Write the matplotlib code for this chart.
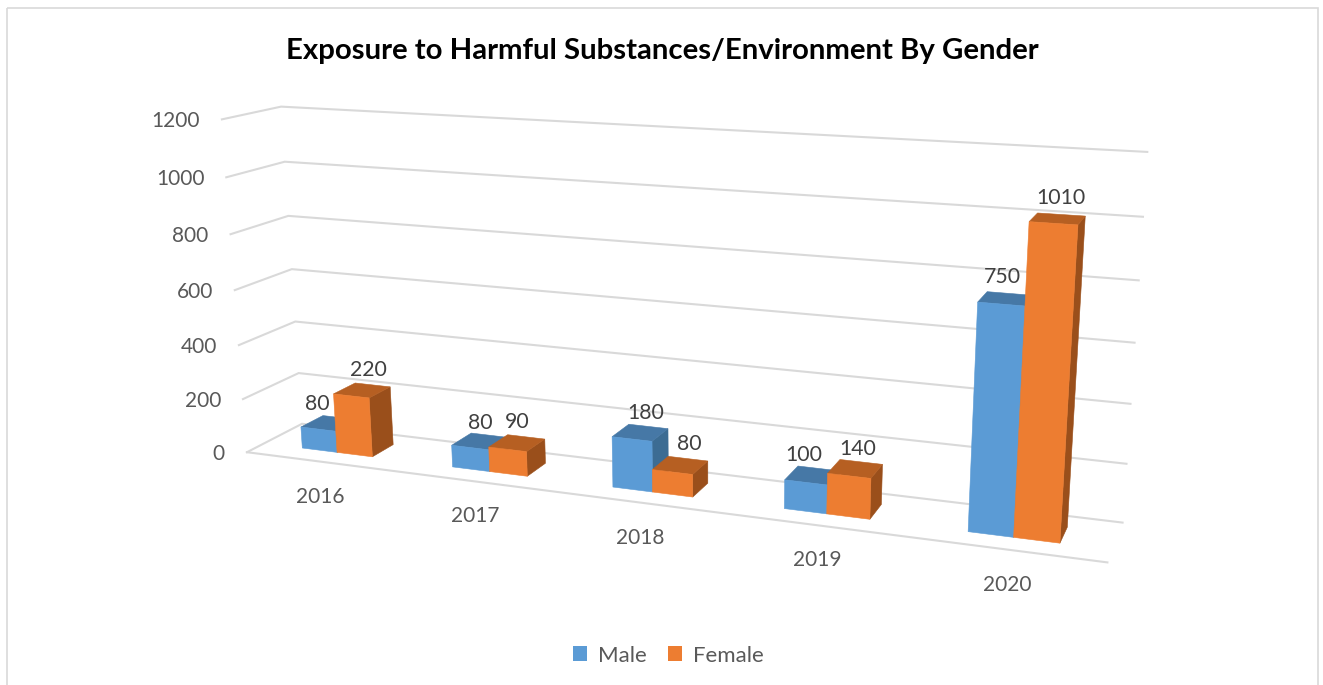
import numpy as np
import matplotlib
matplotlib.use("Agg")
import matplotlib.pyplot as plt
from matplotlib.patches import Patch, Polygon, Rectangle

plt.rcParams['font.family'] = ['Lato', 'DejaVu Sans']

# Data
years = ['2016', '2017', '2018', '2019', '2020']
male = [80, 80, 180, 100, 750]
female = [220, 90, 80, 140, 1010]
ticks = [0, 200, 400, 600, 800, 1000, 1200]

# label nudges in pixels, from the top centre of each bar
male_nudge = [(-24, -13), (-10, -12), (-4, -13), (-16, -13), (-9, -16)]
female_nudge = [(-6, -15), (-10, -15), (0, -14), (-5, -13), (-2, -16)]

# Colours (front, top, side)
blue = ('#5B9BD5', '#4678A6', '#3C6C93')
orange = ('#ED7D31', '#B65F22', '#9A4F1B')
grid = '#D9D9D9'
text = '#595959'

# The 3D box of the chart: category, value, depth -> where its corners land
box = [((0, 0, 0), (247, 452)), ((0, 1200, 0), (222, 120)),
       ((0, 0, 1), (302, 424)), ((0, 1200, 1), (281, 106)),
       ((5, 0, 0), (1108, 563)), ((5, 1200, 0), (1132, 169)),
       ((5, 0, 1), (1122, 522)), ((5, 1200, 1), (1148, 153))]

rows, rhs = [], []
for (u, v, w), (px, py) in box:
    v = v / 1200
    rows.append([u, v, w, 1, 0, 0, 0, 0, -px * u, -px * v, -px * w])
    rows.append([0, 0, 0, 0, u, v, w, 1, -py * u, -py * v, -py * w])
    rhs += [px, py]
m = np.linalg.lstsq(np.array(rows, float), np.array(rhs, float), rcond=None)[0]


def project(u, v, w):
    v = v / 1200
    d = m[8] * u + m[9] * v + m[10] * w + 1
    return ((m[0] * u + m[1] * v + m[2] * w + m[3]) / d,
            (m[4] * u + m[5] * v + m[6] * w + m[7]) / d)


fig = plt.figure(figsize=(13.23, 6.85), dpi=100)
ax = fig.add_axes([0, 0, 1, 1])
ax.set_xlim(0, 1323)
ax.set_ylim(685, 0)
ax.axis('off')

# chart frame
ax.add_patch(Rectangle((7, 8), 1311, 700, fill=False, ec=grid, lw=1.2))

# gridlines
for t in ticks:
    pts = [project(0, t, 0), project(0, t, 1), project(5, t, 1)]
    ax.plot(*zip(*pts), color=grid, lw=1.5, solid_joinstyle='miter')
    x, y = project(0, t, 0)
    ax.text(x - 22, y + 2, str(t), ha='right', va='center', fontsize=15, color=text)
ax.plot(*zip(project(0, 0, 0), project(5, 0, 0)), color=grid, lw=1.5)


def draw_bar(u0, u1, val, cols):
    w0, w1 = 0.305, 0.715
    faces = [
        ([(u1, 0, w0), (u1, 0, w1), (u1, val, w1), (u1, val, w0)], cols[2]),
        ([(u0, val, w0), (u1, val, w0), (u1, val, w1), (u0, val, w1)], cols[1]),
        ([(u0, 0, w0), (u1, 0, w0), (u1, val, w0), (u0, val, w0)], cols[0]),
    ]
    for corners, c in faces:
        ax.add_patch(Polygon([project(*p) for p in corners], closed=True,
                             fc=c, ec=c, lw=0.4, zorder=3))


for i, year in enumerate(years):
    draw_bar(i + 0.263, i + 0.5, male[i], blue)
    draw_bar(i + 0.5, i + 0.737, female[i], orange)

    for val, uc, nudge in ((male[i], i + 0.385, male_nudge[i]),
                           (female[i], i + 0.625, female_nudge[i])):
        x, y = project(uc, val, 0.725)
        ax.text(x + nudge[0], y + nudge[1], str(val), ha='center', va='center',
                fontsize=15.3, color='#404040', zorder=5)

    x, y = project(i + 0.5, 0, 0)
    ax.text(x, y + 35, year, ha='center', va='center', fontsize=15, color=text)

ax.text(662.5, 51, 'Exposure to Harmful Substances/Environment By Gender',
        ha='center', va='center', fontsize=21.2, fontweight='bold', color='black')

ax.legend(handles=[Patch(fc=blue[0], label='Male'), Patch(fc=orange[0], label='Female')],
          loc='center', bbox_to_anchor=(668, 655.5), bbox_transform=ax.transData,
          ncol=2, frameon=False, fontsize=16, labelcolor=text,
          handlelength=0.63, handleheight=0.63, handletextpad=0.5, columnspacing=0.95)

fig.savefig('out.png', dpi=100)
